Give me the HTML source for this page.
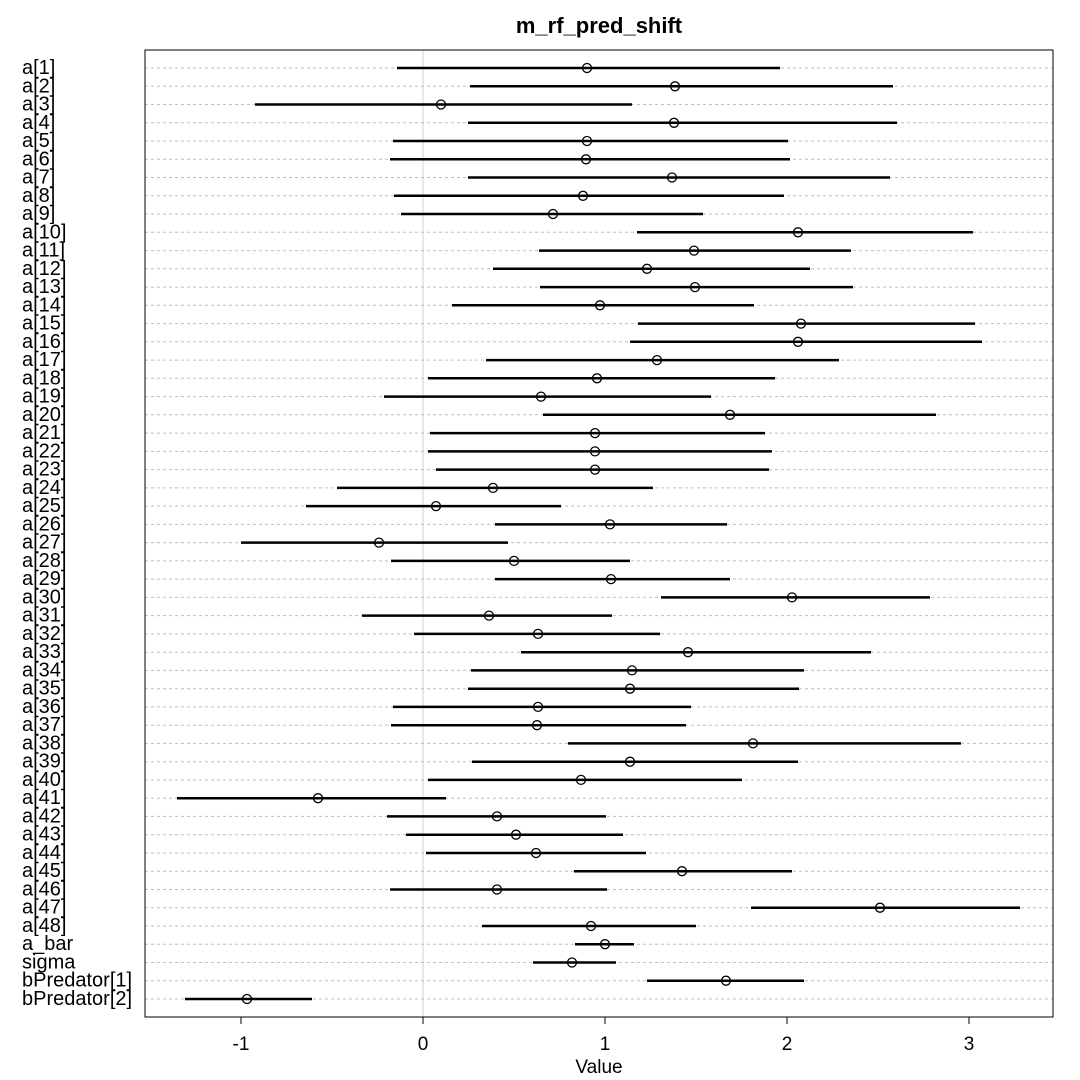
<!DOCTYPE html>
<html><head><meta charset="utf-8"><style>body{margin:0;background:#fff}svg{display:block}text{font-family:"Liberation Sans",sans-serif}</style></head><body>
<svg width="1080" height="1080" viewBox="0 0 1080 1080" xmlns="http://www.w3.org/2000/svg">
<rect width="1080" height="1080" fill="#fff"/>
<text x="599" y="33" font-size="22" font-weight="bold" text-anchor="middle">m_rf_pred_shift</text>
<line x1="423" y1="50" x2="423" y2="1017" stroke="#d3d3d3" stroke-width="1"/>
<g stroke="#bebebe" stroke-width="1" stroke-dasharray="3,3">
<line x1="145" x2="1053" y1="68" y2="68"/><line x1="145" x2="1053" y1="86.3" y2="86.3"/><line x1="145" x2="1053" y1="104.5" y2="104.5"/><line x1="145" x2="1053" y1="122.8" y2="122.8"/><line x1="145" x2="1053" y1="141" y2="141"/><line x1="145" x2="1053" y1="159.3" y2="159.3"/><line x1="145" x2="1053" y1="177.5" y2="177.5"/><line x1="145" x2="1053" y1="195.8" y2="195.8"/><line x1="145" x2="1053" y1="214" y2="214"/><line x1="145" x2="1053" y1="232.3" y2="232.3"/><line x1="145" x2="1053" y1="250.6" y2="250.6"/><line x1="145" x2="1053" y1="268.8" y2="268.8"/><line x1="145" x2="1053" y1="287.1" y2="287.1"/><line x1="145" x2="1053" y1="305.3" y2="305.3"/><line x1="145" x2="1053" y1="323.6" y2="323.6"/><line x1="145" x2="1053" y1="341.8" y2="341.8"/><line x1="145" x2="1053" y1="360.1" y2="360.1"/><line x1="145" x2="1053" y1="378.3" y2="378.3"/><line x1="145" x2="1053" y1="396.6" y2="396.6"/><line x1="145" x2="1053" y1="414.8" y2="414.8"/><line x1="145" x2="1053" y1="433.1" y2="433.1"/><line x1="145" x2="1053" y1="451.4" y2="451.4"/><line x1="145" x2="1053" y1="469.6" y2="469.6"/><line x1="145" x2="1053" y1="487.9" y2="487.9"/><line x1="145" x2="1053" y1="506.1" y2="506.1"/><line x1="145" x2="1053" y1="524.4" y2="524.4"/><line x1="145" x2="1053" y1="542.6" y2="542.6"/><line x1="145" x2="1053" y1="560.9" y2="560.9"/><line x1="145" x2="1053" y1="579.1" y2="579.1"/><line x1="145" x2="1053" y1="597.4" y2="597.4"/><line x1="145" x2="1053" y1="615.6" y2="615.6"/><line x1="145" x2="1053" y1="633.9" y2="633.9"/><line x1="145" x2="1053" y1="652.2" y2="652.2"/><line x1="145" x2="1053" y1="670.4" y2="670.4"/><line x1="145" x2="1053" y1="688.7" y2="688.7"/><line x1="145" x2="1053" y1="706.9" y2="706.9"/><line x1="145" x2="1053" y1="725.2" y2="725.2"/><line x1="145" x2="1053" y1="743.4" y2="743.4"/><line x1="145" x2="1053" y1="761.7" y2="761.7"/><line x1="145" x2="1053" y1="779.9" y2="779.9"/><line x1="145" x2="1053" y1="798.2" y2="798.2"/><line x1="145" x2="1053" y1="816.4" y2="816.4"/><line x1="145" x2="1053" y1="834.7" y2="834.7"/><line x1="145" x2="1053" y1="853" y2="853"/><line x1="145" x2="1053" y1="871.2" y2="871.2"/><line x1="145" x2="1053" y1="889.5" y2="889.5"/><line x1="145" x2="1053" y1="907.7" y2="907.7"/><line x1="145" x2="1053" y1="926" y2="926"/><line x1="145" x2="1053" y1="944.2" y2="944.2"/><line x1="145" x2="1053" y1="962.5" y2="962.5"/><line x1="145" x2="1053" y1="980.7" y2="980.7"/><line x1="145" x2="1053" y1="999" y2="999"/>
</g>
<g stroke="#000" stroke-width="2.5">
<line x1="397" x2="780" y1="68" y2="68"/><line x1="470" x2="893" y1="86.3" y2="86.3"/><line x1="255" x2="632" y1="104.5" y2="104.5"/><line x1="468" x2="897" y1="122.8" y2="122.8"/><line x1="393" x2="788" y1="141" y2="141"/><line x1="390" x2="790" y1="159.3" y2="159.3"/><line x1="468" x2="890" y1="177.5" y2="177.5"/><line x1="394" x2="784" y1="195.8" y2="195.8"/><line x1="401" x2="703" y1="214" y2="214"/><line x1="637" x2="973" y1="232.3" y2="232.3"/><line x1="539" x2="851" y1="250.6" y2="250.6"/><line x1="493" x2="810" y1="268.8" y2="268.8"/><line x1="540" x2="853" y1="287.1" y2="287.1"/><line x1="452" x2="754" y1="305.3" y2="305.3"/><line x1="638" x2="975" y1="323.6" y2="323.6"/><line x1="630" x2="982" y1="341.8" y2="341.8"/><line x1="486" x2="839" y1="360.1" y2="360.1"/><line x1="428" x2="775" y1="378.3" y2="378.3"/><line x1="384" x2="711" y1="396.6" y2="396.6"/><line x1="543" x2="936" y1="414.8" y2="414.8"/><line x1="430" x2="765" y1="433.1" y2="433.1"/><line x1="428" x2="772" y1="451.4" y2="451.4"/><line x1="436" x2="769" y1="469.6" y2="469.6"/><line x1="337" x2="653" y1="487.9" y2="487.9"/><line x1="306" x2="561" y1="506.1" y2="506.1"/><line x1="495" x2="727" y1="524.4" y2="524.4"/><line x1="241" x2="508" y1="542.6" y2="542.6"/><line x1="391" x2="630" y1="560.9" y2="560.9"/><line x1="495" x2="730" y1="579.1" y2="579.1"/><line x1="661" x2="930" y1="597.4" y2="597.4"/><line x1="362" x2="612" y1="615.6" y2="615.6"/><line x1="414" x2="660" y1="633.9" y2="633.9"/><line x1="521" x2="871" y1="652.2" y2="652.2"/><line x1="471" x2="804" y1="670.4" y2="670.4"/><line x1="468" x2="799" y1="688.7" y2="688.7"/><line x1="393" x2="691" y1="706.9" y2="706.9"/><line x1="391" x2="686" y1="725.2" y2="725.2"/><line x1="568" x2="961" y1="743.4" y2="743.4"/><line x1="472" x2="798" y1="761.7" y2="761.7"/><line x1="428" x2="742" y1="779.9" y2="779.9"/><line x1="177" x2="446" y1="798.2" y2="798.2"/><line x1="387" x2="606" y1="816.4" y2="816.4"/><line x1="406" x2="623" y1="834.7" y2="834.7"/><line x1="426" x2="646" y1="853" y2="853"/><line x1="574" x2="792" y1="871.2" y2="871.2"/><line x1="390" x2="607" y1="889.5" y2="889.5"/><line x1="751" x2="1020" y1="907.7" y2="907.7"/><line x1="482" x2="696" y1="926" y2="926"/><line x1="575" x2="634" y1="944.2" y2="944.2"/><line x1="533" x2="616" y1="962.5" y2="962.5"/><line x1="647" x2="804" y1="980.7" y2="980.7"/><line x1="185" x2="312" y1="999" y2="999"/>
</g>
<g fill="none" stroke="#000" stroke-width="1.3">
<circle r="4.5" cx="587" cy="68"/><circle r="4.5" cx="675" cy="86.3"/><circle r="4.5" cx="441" cy="104.5"/><circle r="4.5" cx="674" cy="122.8"/><circle r="4.5" cx="587" cy="141"/><circle r="4.5" cx="586" cy="159.3"/><circle r="4.5" cx="672" cy="177.5"/><circle r="4.5" cx="583" cy="195.8"/><circle r="4.5" cx="553" cy="214"/><circle r="4.5" cx="798" cy="232.3"/><circle r="4.5" cx="694" cy="250.6"/><circle r="4.5" cx="647" cy="268.8"/><circle r="4.5" cx="695" cy="287.1"/><circle r="4.5" cx="600" cy="305.3"/><circle r="4.5" cx="801" cy="323.6"/><circle r="4.5" cx="798" cy="341.8"/><circle r="4.5" cx="657" cy="360.1"/><circle r="4.5" cx="597" cy="378.3"/><circle r="4.5" cx="541" cy="396.6"/><circle r="4.5" cx="730" cy="414.8"/><circle r="4.5" cx="595" cy="433.1"/><circle r="4.5" cx="595" cy="451.4"/><circle r="4.5" cx="595" cy="469.6"/><circle r="4.5" cx="493" cy="487.9"/><circle r="4.5" cx="436" cy="506.1"/><circle r="4.5" cx="610" cy="524.4"/><circle r="4.5" cx="379" cy="542.6"/><circle r="4.5" cx="514" cy="560.9"/><circle r="4.5" cx="611" cy="579.1"/><circle r="4.5" cx="792" cy="597.4"/><circle r="4.5" cx="489" cy="615.6"/><circle r="4.5" cx="538" cy="633.9"/><circle r="4.5" cx="688" cy="652.2"/><circle r="4.5" cx="632" cy="670.4"/><circle r="4.5" cx="630" cy="688.7"/><circle r="4.5" cx="538" cy="706.9"/><circle r="4.5" cx="537" cy="725.2"/><circle r="4.5" cx="753" cy="743.4"/><circle r="4.5" cx="630" cy="761.7"/><circle r="4.5" cx="581" cy="779.9"/><circle r="4.5" cx="318" cy="798.2"/><circle r="4.5" cx="497" cy="816.4"/><circle r="4.5" cx="516" cy="834.7"/><circle r="4.5" cx="536" cy="853"/><circle r="4.5" cx="682" cy="871.2"/><circle r="4.5" cx="497" cy="889.5"/><circle r="4.5" cx="880" cy="907.7"/><circle r="4.5" cx="591" cy="926"/><circle r="4.5" cx="605" cy="944.2"/><circle r="4.5" cx="572" cy="962.5"/><circle r="4.5" cx="726" cy="980.7"/><circle r="4.5" cx="247" cy="999"/>
</g>
<rect x="145" y="50" width="908" height="967" fill="none" stroke="#000" stroke-width="1"/>
<g font-size="20" dominant-baseline="central">
<text x="22" y="68">a[1]</text><text x="22" y="86.3">a[2]</text><text x="22" y="104.5">a[3]</text><text x="22" y="122.8">a[4]</text><text x="22" y="141">a[5]</text><text x="22" y="159.3">a[6]</text><text x="22" y="177.5">a[7]</text><text x="22" y="195.8">a[8]</text><text x="22" y="214">a[9]</text><text x="22" y="232.3">a[10]</text><text x="22" y="250.6">a[11]</text><text x="22" y="268.8">a[12]</text><text x="22" y="287.1">a[13]</text><text x="22" y="305.3">a[14]</text><text x="22" y="323.6">a[15]</text><text x="22" y="341.8">a[16]</text><text x="22" y="360.1">a[17]</text><text x="22" y="378.3">a[18]</text><text x="22" y="396.6">a[19]</text><text x="22" y="414.8">a[20]</text><text x="22" y="433.1">a[21]</text><text x="22" y="451.4">a[22]</text><text x="22" y="469.6">a[23]</text><text x="22" y="487.9">a[24]</text><text x="22" y="506.1">a[25]</text><text x="22" y="524.4">a[26]</text><text x="22" y="542.6">a[27]</text><text x="22" y="560.9">a[28]</text><text x="22" y="579.1">a[29]</text><text x="22" y="597.4">a[30]</text><text x="22" y="615.6">a[31]</text><text x="22" y="633.9">a[32]</text><text x="22" y="652.2">a[33]</text><text x="22" y="670.4">a[34]</text><text x="22" y="688.7">a[35]</text><text x="22" y="706.9">a[36]</text><text x="22" y="725.2">a[37]</text><text x="22" y="743.4">a[38]</text><text x="22" y="761.7">a[39]</text><text x="22" y="779.9">a[40]</text><text x="22" y="798.2">a[41]</text><text x="22" y="816.4">a[42]</text><text x="22" y="834.7">a[43]</text><text x="22" y="853">a[44]</text><text x="22" y="871.2">a[45]</text><text x="22" y="889.5">a[46]</text><text x="22" y="907.7">a[47]</text><text x="22" y="926">a[48]</text><text x="22" y="944.2">a_bar</text><text x="22" y="962.5">sigma</text><text x="22" y="980.7">bPredator[1]</text><text x="22" y="999">bPredator[2]</text>
</g>
<g stroke="#000" stroke-width="1">
<line x1="241" x2="969" y1="1017" y2="1017"/>
<line x1="241" x2="241" y1="1017" y2="1024"/><line x1="423" x2="423" y1="1017" y2="1024"/><line x1="605" x2="605" y1="1017" y2="1024"/><line x1="787" x2="787" y1="1017" y2="1024"/><line x1="969" x2="969" y1="1017" y2="1024"/>
</g>
<g font-size="19" text-anchor="middle">
<text x="241" y="1050">-1</text><text x="423" y="1050">0</text><text x="605" y="1050">1</text><text x="787" y="1050">2</text><text x="969" y="1050">3</text>
<text x="599" y="1073">Value</text>
</g>
</svg>
</body></html>
